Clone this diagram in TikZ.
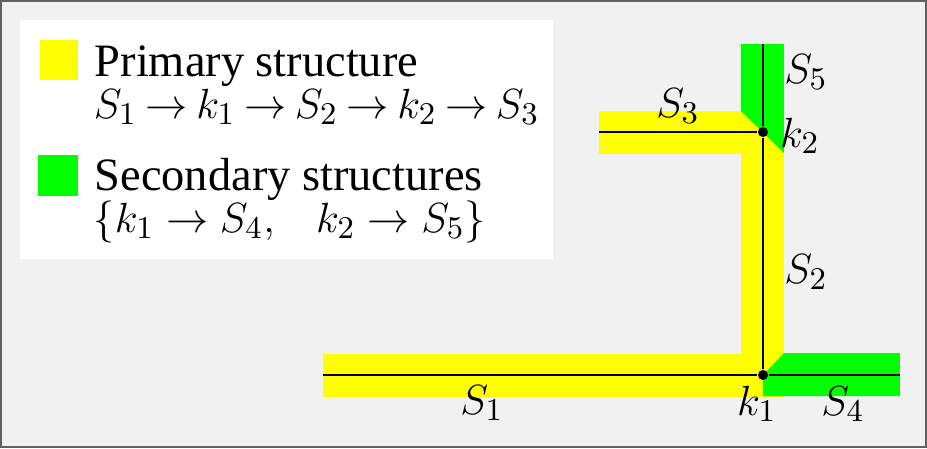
\documentclass[tikz,border=0pt]{standalone}
\usepackage[no-math]{fontspec}
\setmainfont{Liberation Serif}
\usetikzlibrary{positioning}
\definecolor{pyellow}{RGB}{255,255,0}
\definecolor{pgreen}{RGB}{0,255,0}
\definecolor{bggray}{RGB}{241,241,241}
\definecolor{framegray}{RGB}{96,96,96}
\tikzset{
  primary/.style={fill=pyellow},
  secondary/.style={fill=pgreen},
  strand/.style={line width=0.6pt},
  junction/.style={circle, fill, inner sep=0pt, minimum size=0.1cm},
  lbl/.style={font=\fontsize{13}{15}\selectfont, inner sep=0pt},
  legtext/.style={font=\fontsize{13.2}{15}\selectfont, inner sep=0pt, anchor=base west},
}
\begin{document}
\begin{tikzpicture}[x=0.01cm,y=-0.01cm]
  \draw[fill=bggray, draw=framegray, line width=0.6pt] (1,1) rectangle (926,447);
  \useasboundingbox (0,0) rectangle (927,448);

  % legend
  \fill[white] (20,20) rectangle (553,259);
  \fill[primary] (40,40) rectangle (78,80);
  \fill[secondary] (38,155) rectangle (78,196);
  \node[legtext] (prim) at (94,76) {Primary structure};
  \node[lbl, anchor=base west] (primpath) at (93,118) {\thickmuskip=3.6mu $S_1\to k_1\to S_2\to k_2\to S_3$};
  \node[legtext] (sec) at (94,190) {Secondary structures};
  \node[lbl, anchor=base west] (secpath) at (93,232) {$\{k_1\to S_4,\ \ \ k_2\to S_5\}$};

  % strands
  \coordinate (s1) at (323,375);
  \coordinate (s3) at (599,132);
  \coordinate (s4) at (900,375);
  \coordinate (s5) at (763,44);
  \coordinate (k1c) at (763,375);
  \coordinate (k2c) at (763,132);

  \draw[pyellow, line width=0.43cm, line join=miter] (s1) -- (k1c) -- (k2c) -- (s3);
  \fill[secondary] (763,396) -- (763,375) -- (784,353) -- (900,353) -- (900,396) -- cycle;
  \fill[secondary] (741,44) -- (784,44) -- (784,153) -- (741,111) -- cycle;

  \node[junction] (k1) at (k1c) {};
  \node[junction] (k2) at (k2c) {};
  \draw[strand] (s1) -- (k1) -- (s4);
  \draw[strand] (k1) -- (k2) -- (s5);
  \draw[strand] (k2) -- (s3);

  % labels
  \node[lbl] (lS1) at (482,403) {$S_1$};
  \node[lbl] (lk1) at (757,404) {$k_1$};
  \node[lbl] (lS4) at (843,404) {$S_4$};
  \node[lbl] (lS2) at (806,272) {$S_2$};
  \node[lbl] (lS3) at (678,106) {$S_3$};
  \node[lbl] (lS5) at (806,72) {$S_5$};
  \node[lbl] (lk2) at (800,136) {$k_2$};
\end{tikzpicture}
\end{document}
